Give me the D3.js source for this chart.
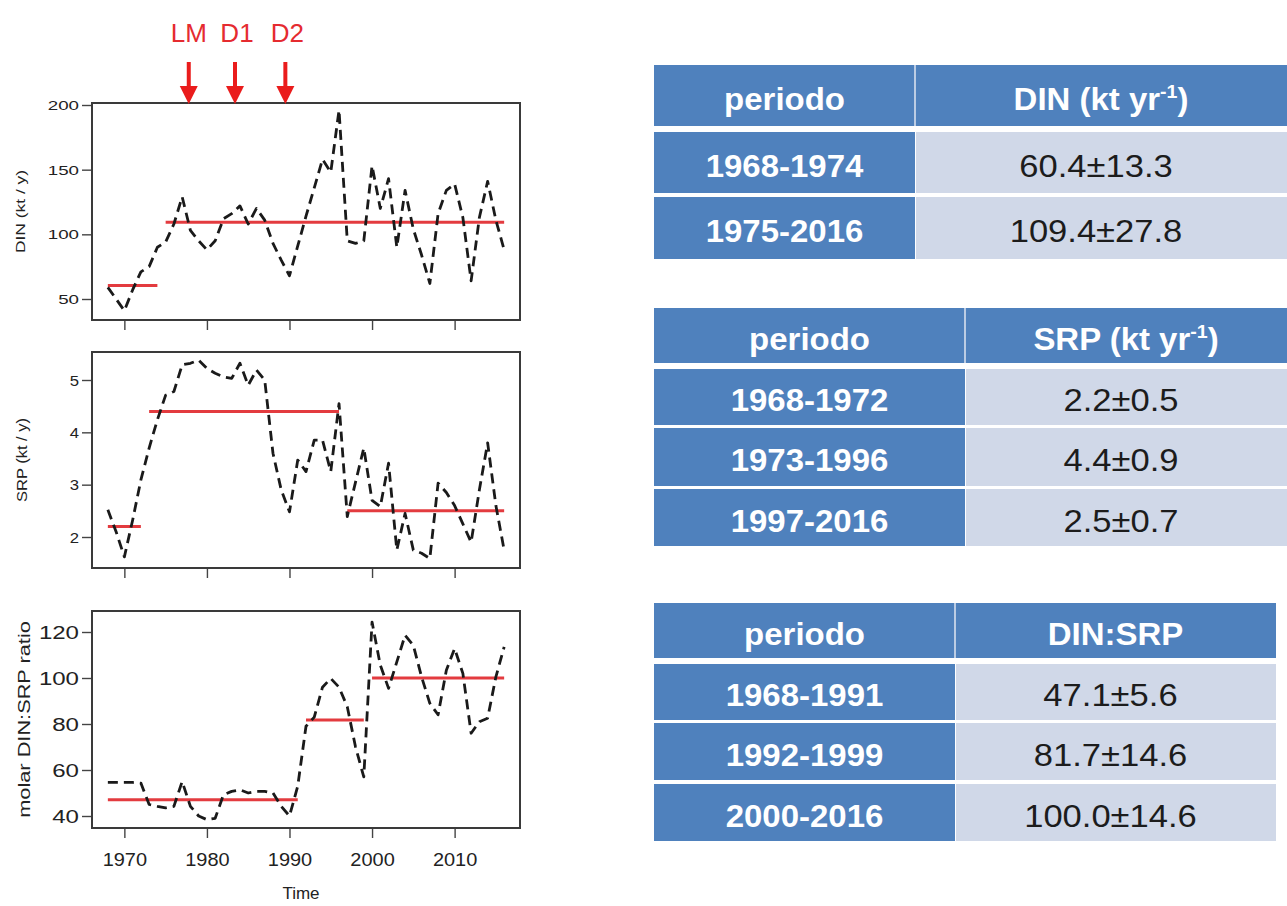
<!DOCTYPE html>
<html>
<head>
<meta charset="utf-8">
<script src="https://cdn.jsdelivr.net/npm/d3@7"></script>
<style>
  body { margin: 0; background: #fff; }
  svg { display: block; }
  text { font-family: "Liberation Sans", Arial, Helvetica, sans-serif; }
</style>
</head>
<body>
<svg id="fig" width="1287" height="906"></svg>
<script>
// ---- annual series, 1968-2016 ----
const years = [1968,1969,1970,1971,1972,1973,1974,1975,1976,1977,1978,1979,1980,1981,1982,1983,1984,1985,1986,1987,1988,1989,1990,1991,1992,1993,1994,1995,1996,1997,1998,1999,2000,2001,2002,2003,2004,2005,2006,2007,2008,2009,2010,2011,2012,2013,2014,2015,2016];

// dissolved inorganic nitrogen load (kt / y)
const din = [59,50,41,57,71,75,90,94,108,129,103,95,88,95,112,116,122,108,120,111,93,80,68,91,114,136,158,148,196,95,93,95,153,120,143,90,134,104,84,62,116,134,139,113,64,113,141,111,88];

// soluble reactive phosphorus load (kt / y)
const srp = [2.52,2.1,1.62,2.32,3.09,3.7,4.24,4.71,4.78,5.29,5.32,5.38,5.22,5.13,5.06,5.03,5.32,4.9,5.19,5.0,3.6,2.9,2.48,3.47,3.25,3.85,3.85,3.25,4.55,2.39,3.05,3.7,2.7,2.58,3.41,1.75,2.45,1.75,1.69,1.59,3.03,2.85,2.6,2.25,1.9,2.9,3.8,2.6,1.75];

// molar DIN:SRP ratio
const ratio = [54.6,54.6,54.6,54.6,54.3,45,44.2,43.5,44.2,55,44.2,40,38.4,39,49.2,50.7,51.4,50,50.7,50.7,50,44.2,40,53,79,83,96,99.8,96,87.5,70,57,124.3,105.6,95.5,107,118.6,114.2,100.5,89,84,103.4,112.8,102,76,81,82.5,100.5,113.5];

// ---- period means (red segments) and their standard deviations ----
const dinPeriods   = [[1968,1974],[1975,2016]];
const dinMeans     = [60.4,109.4];
const dinSD        = [13.3,27.8];

const srpPeriods   = [[1968,1972],[1973,1996],[1997,2016]];
const srpMeans     = [2.2,4.4,2.5];
const srpSD        = [0.5,0.9,0.7];

const ratioPeriods = [[1968,1991],[1992,1999],[2000,2016]];
const ratioMeans   = [47.1,81.7,100.0];
const ratioSD      = [5.6,14.6,14.6];

// ---- tick values ----
const xTicks     = [1970,1980,1990,2000,2010];
const dinTicks   = [50,100,150,200];
const srpTicks   = [2,3,4,5];
const ratioTicks = [40,60,80,100,120];

// ---- event markers above the first panel ----
const markerNames = ["LM","D1","D2"];
const markerYears = [1977.8,1983.4,1989.5];

// ---- table headings ----
const tableHeads = [
  { left: "periodo", right: ["DIN (kt yr", "-1", ")"] },
  { left: "periodo", right: ["SRP (kt yr", "-1", ")"] },
  { left: "periodo", right: ["DIN:SRP"] }
];

// ================= drawing =================
const svg = d3.select("#fig");
const INK = "#222";
const RED_LINE = "#e33b3f";
const RED = "#ea1c1c";

function label(g, x, y, s, o) {
  return g.append("text")
    .attr("transform", `translate(${x},${y}) rotate(${o.rot || 0}) scale(${o.sx || 1},1)`)
    .attr("text-anchor", o.anchor || "middle")
    .attr("font-size", o.size)
    .attr("font-weight", o.weight || "normal")
    .attr("fill", o.fill || INK)
    .text(s);
}

// shared time axis across the three stacked panels
const x = d3.scaleLinear().domain([1966.08, 2017.92]).range([92, 520]);

const panels = [
  { values: din,   ticks: dinTicks,   top: 103, bottom: 320, dom: [50,200], rng: [299,105],
    periods: dinPeriods, means: dinMeans, title: "DIN (kt / y)",
    tickSize: 12.5, tickSx: 1.5, titleSize: 12, titleSx: 1.45, titleX: 21 },
  { values: srp,   ticks: srpTicks,   top: 352, bottom: 568, dom: [2,5], rng: [537,380],
    periods: srpPeriods, means: srpMeans, title: "SRP (kt / y)",
    tickSize: 14.5, tickSx: 1.15, titleSize: 15, titleSx: 1.1, titleX: 22 },
  { values: ratio, ticks: ratioTicks, top: 611, bottom: 828, dom: [40,120], rng: [816,632],
    periods: ratioPeriods, means: ratioMeans, title: "molar DIN:SRP ratio",
    tickSize: 18.5, tickSx: 1.3, titleSize: 17, titleSx: 1.28, titleX: 24, xLabels: true }
];

panels.forEach(p => {
  const y = d3.scaleLinear().domain(p.dom).range(p.rng);
  const g = svg.append("g");

  // y axis
  const ya = g.append("g").attr("transform", `translate(${x.range()[0]},0)`)
    .call(d3.axisLeft(y).tickValues(p.ticks).tickSize(10).tickFormat(d3.format("d")));
  ya.select(".domain").remove();
  ya.selectAll(".tick line").attr("stroke", "#444").attr("stroke-width", 1.4);
  ya.selectAll(".tick text").each(function() {
    d3.select(this).attr("x", null).attr("dy", "0.35em")
      .attr("transform", `translate(-13,0) scale(${p.tickSx},1)`)
      .attr("font-size", p.tickSize).attr("fill", INK)
      .attr("font-family", null);
  });

  // x axis (labels only on the bottom panel)
  const xa = g.append("g").attr("transform", `translate(0,${p.bottom})`)
    .call(d3.axisBottom(x).tickValues(xTicks).tickSize(10).tickFormat(p.xLabels ? d3.format("d") : ""));
  xa.select(".domain").remove();
  xa.selectAll(".tick line").attr("stroke", "#444").attr("stroke-width", 1.4);
  xa.selectAll(".tick text").each(function() {
    d3.select(this).attr("y", null).attr("dy", null)
      .attr("transform", `translate(0,38) scale(1.05,1)`)
      .attr("font-size", 19).attr("fill", INK).attr("font-family", null);
  });

  // red period means
  g.selectAll("line.mean").data(p.periods).join("line")
    .attr("class", "mean")
    .attr("x1", d => x(d[0])).attr("x2", d => x(d[1]))
    .attr("y1", (d, i) => y(p.means[i])).attr("y2", (d, i) => y(p.means[i]))
    .attr("stroke", RED_LINE).attr("stroke-width", 3);

  // dashed annual series
  const line = d3.line().x((d, i) => x(years[i])).y(d => y(d));
  g.append("path").datum(p.values)
    .attr("d", line)
    .attr("fill", "none").attr("stroke", "#1a1a1a")
    .attr("stroke-width", 2.8).attr("stroke-dasharray", "10,6")
    .attr("stroke-linejoin", "round");

  // frame
  g.append("rect")
    .attr("x", x.range()[0]).attr("y", p.top)
    .attr("width", x.range()[1] - x.range()[0]).attr("height", p.bottom - p.top)
    .attr("fill", "none").attr("stroke", "#3a3a3a").attr("stroke-width", 2);

  // y title
  label(g, p.titleX + 0.36 * p.titleSize, (p.top + p.bottom) / 2, p.title,
        { size: p.titleSize, rot: -90, sx: p.titleSx });
});

label(svg, 301, 899, "Time", { size: 17 });

// event arrows
const mk = svg.append("g");
markerYears.forEach((yr, i) => {
  const cx = x(yr);
  mk.append("line").attr("x1", cx).attr("x2", cx).attr("y1", 62).attr("y2", 90)
    .attr("stroke", RED).attr("stroke-width", 4);
  mk.append("path")
    .attr("d", `M${cx - 9},86 L${cx + 9},86 L${cx},104 Z`)
    .attr("fill", RED);
  label(mk, cx + (i === 0 ? 0 : 2), 42, markerNames[i], { size: 26, fill: "#e52b30" });
});

// ================= tables =================
const BLUE = "#4f81bd";
const LIGHT = "#d0d8e8";

const tables = [
  { x0: 654, split: 915, x1: 1287, head: [65,126], rows: [[132,193],[197,259]],
    periods: dinPeriods, means: dinMeans, sd: dinSD, heading: tableHeads[0] },
  { x0: 654, split: 965, x1: 1287, head: [308,363], rows: [[369,425],[428,486],[489,546]],
    periods: srpPeriods, means: srpMeans, sd: srpSD, heading: tableHeads[1] },
  { x0: 654, split: 955, x1: 1276, head: [603,658], rows: [[664,720],[723,780],[784,841]],
    periods: ratioPeriods, means: ratioMeans, sd: ratioSD, heading: tableHeads[2] }
];

tables.forEach(t => {
  const g = svg.append("g");
  const lc = (t.x0 + t.split) / 2, rc = (t.split + t.x1) / 2;

  g.append("rect").attr("x", t.x0).attr("y", t.head[0])
    .attr("width", t.x1 - t.x0).attr("height", t.head[1] - t.head[0]).attr("fill", BLUE);
  g.append("line").attr("x1", t.split).attr("x2", t.split)
    .attr("y1", t.head[0]).attr("y2", t.head[1])
    .attr("stroke", "#dfe6f2").attr("stroke-width", 1.5);

  const hy = (t.head[0] + t.head[1]) / 2 + 14;
  label(g, lc, hy, t.heading.left, { size: 32, weight: "bold", fill: "#fff", sx: 1.03 });

  const ht = g.append("text")
    .attr("transform", `translate(${rc},${hy}) scale(1.03,1)`)
    .attr("text-anchor", "middle").attr("font-size", 32)
    .attr("font-weight", "bold").attr("fill", "#fff");
  ht.append("tspan").text(t.heading.right[0]);
  if (t.heading.right.length > 1) {
    ht.append("tspan").attr("font-size", 19).attr("dy", -12).text(t.heading.right[1]);
    ht.append("tspan").attr("font-size", 32).attr("dy", 12).text(t.heading.right[2]);
  }

  t.rows.forEach((r, i) => {
    g.append("rect").attr("x", t.x0).attr("y", r[0])
      .attr("width", t.split - t.x0).attr("height", r[1] - r[0]).attr("fill", BLUE);
    g.append("rect").attr("x", t.split + 1).attr("y", r[0])
      .attr("width", t.x1 - t.split - 1).attr("height", r[1] - r[0]).attr("fill", LIGHT);
    const ry = (r[0] + r[1]) / 2 + 14;
    label(g, lc, ry, `${t.periods[i][0]}-${t.periods[i][1]}`,
          { size: 32, weight: "bold", fill: "#fff", sx: 1.03 });
    label(g, rc - 5, ry, `${t.means[i].toFixed(1)}\u00b1${t.sd[i].toFixed(1)}`,
          { size: 32, fill: "#1c1c1c", sx: 1.08 });
  });
});
</script>
</body>
</html>
